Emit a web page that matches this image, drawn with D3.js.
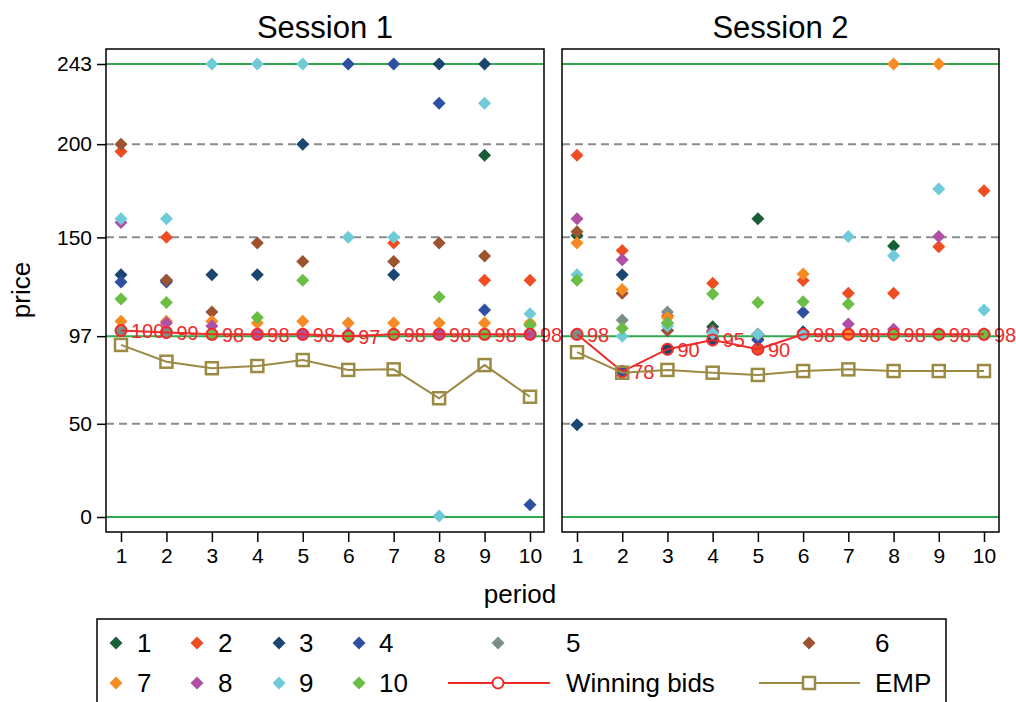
<!DOCTYPE html>
<html>
<head>
<meta charset="utf-8">
<script src="https://cdn.jsdelivr.net/npm/d3@7"></script>
<style>
  body { margin: 0; background: #fff; }
  text { font-family: "Liberation Sans", Arial, sans-serif; }
</style>
</head>
<body>
<svg id="viz"></svg>
<script>
var width = 1016;
var height = 702;

// data
var periods = [1, 2, 3, 4, 5, 6, 7, 8, 9, 10];
var bidders = ["1", "2", "3", "4", "5", "6", "7", "8", "9", "10"];
var yTicks = [0, 50, 97, 150, 200, 243];
var greenLines = [0, 97, 243];
var dashLines = [50, 150, 200];

// session 1 bids, one row per bidder, periods 1..10
var s1Bids = [
  [100, 99, 98, 98, 98, 97, 98, 98, 194, 98],
  [196, 150, 98, 98, 98, 97, 147, 98, 127, 127],
  [130, 127, 130, 130, 200, 97, 130, 243, 243, 103],
  [126, 126, 98, 98, 98, 243, 243, 222, 111, 6.6],
  [100, 99, 98, 98, 98, 97, 98, 98, 98, 103],
  [200, 127, 110, 147, 137, 97, 137, 147, 140, 98],
  [105, 105, 105, 104, 105, 104, 104, 104, 104, 104],
  [158, 104, 102.5, 98, 98, 98.5, 98, 98, 98, 98],
  [160, 160, 243, 243, 243, 150, 150, 0.5, 222, 109],
  [117, 115, 98, 107, 127, 97, 98, 118, 98, 103]
];
var s1Win = [100, 99, 98, 98, 98, 97, 98, 98, 98, 98];
var s1Emp = [92.3, 83.3, 79.8, 81, 84.2, 78.9, 79.2, 63.7, 81.5, 64.5];

// session 2
var s2Bids = [
  [151, 78, 90, 102, 160, 98, 99, 145.4, 98, 98],
  [194, 143, 108, 125.4, 90, 126.8, 120, 120, 145, 175],
  [49.5, 130, 90, 95, 95.3, 99.4, 98, 98, 98, 98],
  [98, 78, 100, 99, 95, 109.8, 98, 98, 98, 98],
  [98, 105.7, 110, 99, 98, 98, 98, 98, 98, 98],
  [153, 120, 100, 100, 98, 98, 98, 98, 98, 98],
  [147, 122, 107, 99, 98, 130.4, 98, 243, 243, 98],
  [160, 138, 104, 99.4, 98, 98, 103.5, 100.7, 150.4, 98],
  [130, 97, 102.5, 98.5, 98, 98, 150.4, 140.2, 176, 111],
  [127, 101.2, 104, 119.6, 115, 115.5, 114.3, 98, 98, 98]
];
var s2Win = [98, 78, 90, 95, 90, 98, 98, 98, 98, 98];
var s2Emp = [88.4, 77.4, 78.9, 77.4, 76.2, 78.3, 79.2, 78.3, 78.3, 78.3];

var colors = ["#1a5e36", "#ee4d22", "#1b4670", "#2f4fa2", "#7a8f86",
              "#9c5330", "#f68a23", "#b050a5", "#70cbd9", "#6abe45"];
var winColor = "#ee2b2b";
var empColor = "#9b8a44";

var svg = d3.select("#viz")
    .attr("width", width)
    .attr("height", height);

var y = d3.scaleLinear().domain([0, 243]).range([517, 64]);

function diamond(r) {
  return "M0," + (-r) + "L" + r + ",0L0," + r + "L" + (-r) + ",0Z";
}

var panels = [
  {title: "Session 1", x0: 106, x1: 544, r0: 121, r1: 530, bids: s1Bids, win: s1Win, emp: s1Emp, yaxis: true},
  {title: "Session 2", x0: 562, x1: 999, r0: 577, r1: 984, bids: s2Bids, win: s2Win, emp: s2Emp, yaxis: false}
];

panels.forEach(function(p) {
  var x = d3.scaleLinear().domain([1, 10]).range([p.r0, p.r1]);
  var g = svg.append("g");

  g.append("rect")
      .attr("x", p.x0).attr("y", 49)
      .attr("width", p.x1 - p.x0).attr("height", 532 - 49)
      .attr("fill", "#fff");

  g.selectAll(".dash").data(dashLines).enter().append("line")
      .attr("x1", p.x0).attr("x2", p.x1)
      .attr("y1", function(d) { return y(d); })
      .attr("y2", function(d) { return y(d); })
      .attr("stroke", "#8c8c8c").attr("stroke-width", 2)
      .attr("stroke-dasharray", "8,5");

  g.selectAll(".green").data(greenLines).enter().append("line")
      .attr("x1", p.x0).attr("x2", p.x1)
      .attr("y1", function(d) { return y(d); })
      .attr("y2", function(d) { return y(d); })
      .attr("stroke", "#2fa84f").attr("stroke-width", 2);

  // bidder diamonds
  p.bids.forEach(function(row, i) {
    g.selectAll(".b" + i).data(row).enter().append("path")
        .attr("d", diamond(6.5))
        .attr("transform", function(d, j) {
          return "translate(" + x(periods[j]) + "," + y(d) + ")";
        })
        .attr("fill", colors[i]);
  });

  // winning bids
  var line = d3.line()
      .x(function(d, j) { return x(periods[j]); })
      .y(function(d) { return y(d); });

  g.append("path").datum(p.win)
      .attr("d", line)
      .attr("fill", "none").attr("stroke", winColor).attr("stroke-width", 2);

  g.selectAll(".win").data(p.win).enter().append("circle")
      .attr("cx", function(d, j) { return x(periods[j]); })
      .attr("cy", function(d) { return y(d); })
      .attr("r", 5.5)
      .attr("fill", "none").attr("stroke", winColor).attr("stroke-width", 2);

  g.selectAll(".winlab").data(p.win).enter().append("text")
      .attr("x", function(d, j) { return x(periods[j]) + 10; })
      .attr("y", function(d) { return y(d) + 7.5; })
      .attr("font-size", 20)
      .attr("fill", winColor)
      .text(function(d) { return d; });

  // EMP
  g.append("path").datum(p.emp)
      .attr("d", line)
      .attr("fill", "none").attr("stroke", empColor).attr("stroke-width", 2);

  g.selectAll(".emp").data(p.emp).enter().append("rect")
      .attr("x", function(d, j) { return x(periods[j]) - 6; })
      .attr("y", function(d) { return y(d) - 6; })
      .attr("width", 12).attr("height", 12)
      .attr("fill", "none").attr("stroke", empColor).attr("stroke-width", 2.5);

  // frame
  g.append("rect")
      .attr("x", p.x0).attr("y", 49)
      .attr("width", p.x1 - p.x0).attr("height", 532 - 49)
      .attr("fill", "none").attr("stroke", "#000").attr("stroke-width", 1.5);

  // x axis
  var xAxis = d3.axisBottom(x).tickValues(periods).tickSize(10).tickPadding(6).tickSizeOuter(0);
  var xa = g.append("g").attr("transform", "translate(0,532)").call(xAxis);
  xa.select(".domain").remove();
  xa.selectAll("line").attr("stroke", "#000").attr("stroke-width", 1.5);
  xa.selectAll("text").attr("font-size", 21).attr("fill", "#000")
      .attr("font-family", "Liberation Sans, Arial, sans-serif");

  if (p.yaxis) {
    var yAxis = d3.axisLeft(y).tickValues(yTicks).tickSize(9).tickPadding(5).tickSizeOuter(0);
    var ya = g.append("g").attr("transform", "translate(" + p.x0 + ",0)").call(yAxis);
    ya.select(".domain").remove();
    ya.selectAll("line").attr("stroke", "#000").attr("stroke-width", 1.5);
    ya.selectAll("text").attr("font-size", 21).attr("fill", "#000")
        .attr("font-family", "Liberation Sans, Arial, sans-serif");
  }

  g.append("text")
      .attr("x", (p.x0 + p.x1) / 2).attr("y", 38)
      .attr("text-anchor", "middle")
      .attr("font-size", 31)
      .text(p.title);
});

svg.append("text")
    .attr("x", 520).attr("y", 603)
    .attr("text-anchor", "middle")
    .attr("font-size", 26)
    .text("period");

svg.append("text")
    .attr("transform", "translate(30,290) rotate(-90)")
    .attr("text-anchor", "middle")
    .attr("font-size", 26)
    .text("price");

// legend
var leg = svg.append("g");
leg.append("rect")
    .attr("x", 97).attr("y", 619)
    .attr("width", 849).attr("height", 100)
    .attr("fill", "#fff").attr("stroke", "#000").attr("stroke-width", 1.5);

var keyX = [116, 197, 279, 359, 498, 809];
var textX = [137, 218, 299, 379, 566, 875];
var rowY = [643, 683];

bidders.forEach(function(b, i) {
  var row = i < 6 ? 0 : 1;
  var col = i < 6 ? i : i - 6;
  leg.append("path")
      .attr("d", diamond(6.5))
      .attr("transform", "translate(" + keyX[col] + "," + rowY[row] + ")")
      .attr("fill", colors[i]);
  leg.append("text")
      .attr("x", textX[col]).attr("y", rowY[row] + 9)
      .attr("font-size", 26)
      .text(b);
});

leg.append("line").attr("x1", 448).attr("x2", 550).attr("y1", rowY[1]).attr("y2", rowY[1])
    .attr("stroke", winColor).attr("stroke-width", 2);
leg.append("circle").attr("cx", keyX[4]).attr("cy", rowY[1]).attr("r", 5.5)
    .attr("fill", "#fff").attr("stroke", winColor).attr("stroke-width", 2);
leg.append("text").attr("x", textX[4]).attr("y", rowY[1] + 9)
    .attr("font-size", 26).text("Winning bids");

leg.append("line").attr("x1", 759).attr("x2", 860).attr("y1", rowY[1]).attr("y2", rowY[1])
    .attr("stroke", empColor).attr("stroke-width", 2);
leg.append("rect").attr("x", keyX[5] - 6).attr("y", rowY[1] - 6).attr("width", 12).attr("height", 12)
    .attr("fill", "#fff").attr("stroke", empColor).attr("stroke-width", 2.5);
leg.append("text").attr("x", textX[5]).attr("y", rowY[1] + 9)
    .attr("font-size", 26).text("EMP");
</script>
</body>
</html>
